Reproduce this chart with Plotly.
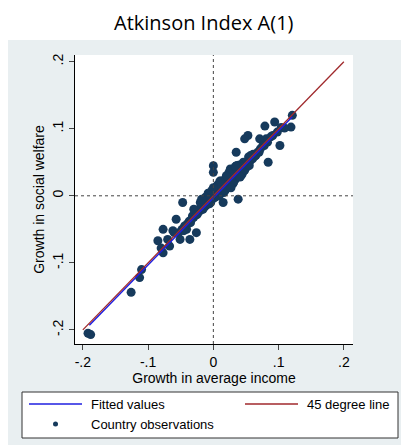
import plotly.graph_objects as go

obs_x = [0.121,0.119,0.109,0.102,0.094,0.091,0.079,0.081,0.084,0.076,0.071,0.053,0.048,0.035,0.038,0.0,0.0,0.015,
         -0.047,-0.057,-0.062,-0.077,-0.085,-0.077,-0.067,-0.051,-0.036,-0.041,-0.026,-0.11,-0.113,-0.126,-0.192,-0.188,
         0.104,0.098,0.088,0.083,0.078,0.072,0.068,0.064,0.061,0.058,0.056,0.054,0.052,0.05,0.048,0.046,0.045,0.043,0.042,
         0.041,0.04,0.038,0.037,0.036,0.035,0.034,0.033,0.032,0.031,0.03,0.029,0.028,0.027,0.026,0.025,0.024,0.023,0.022,
         0.021,0.02,0.019,0.018,0.017,0.016,0.015,0.014,0.013,0.012,0.011,0.01,0.009,0.008,0.007,0.006,0.005,0.004,0.003,
         0.002,0.001,0.0,-0.001,-0.002,-0.003,-0.004,-0.005,-0.006,-0.007,-0.008,-0.009,-0.01,-0.011,-0.012,-0.013,-0.014,
         -0.015,-0.016,-0.018,-0.02,-0.022,-0.024,-0.026,-0.028,-0.03,-0.032,-0.034,-0.037,-0.04,-0.044,-0.048,-0.053,
         0.03,0.025,0.02,0.035,0.04,0.045,0.015,0.01,0.005,0.028,0.033,0.038,0.022,0.018,0.012,0.008,-0.002,-0.006,
         0.05,0.055,0.06,0.065,0.044,0.026,0.031,0.036,0.016,0.006,0.002,-0.01,-0.015,-0.02,0.07,0.062,0.057,0.047,
         -0.03,-0.025,-0.035,-0.045,-0.06,-0.07,-0.08,0.024,0.029,0.034,0.039,0.019,0.014,0.009,0.004,-0.004,-0.008,
         0.012,0.018,0.024,0.03,0.036,0.042,0.048,0.006,-0.005,-0.012,0.02,0.027,0.034,0.041,0.055,0.01,0.0,-0.018]
obs_y = [0.12,0.1025,0.101,0.075,0.11,0.09,0.104,0.085,0.05,0.075,0.085,0.09,0.085,0.065,-0.005,0.045,0.035,-0.01,
         -0.01,-0.035,-0.052,-0.05,-0.067,-0.085,-0.075,-0.065,-0.065,-0.05,-0.055,-0.11,-0.122,-0.144,-0.205,-0.207,
         0.102,0.095,0.088,0.08,0.075,0.07,0.065,0.06,0.062,0.055,0.052,0.058,0.05,0.047,0.045,0.05,0.04,0.042,0.038,
         0.045,0.036,0.04,0.033,0.038,0.03,0.035,0.028,0.033,0.027,0.032,0.025,0.03,0.022,0.028,0.02,0.026,0.018,0.024,
         0.017,0.02,0.015,0.018,0.012,0.016,0.01,0.015,0.008,0.012,0.006,0.01,0.004,0.008,0.002,0.006,0.0,0.004,-0.002,
         0.002,-0.003,0.0,-0.004,-0.002,-0.006,-0.004,-0.008,-0.006,-0.01,-0.008,-0.012,-0.01,-0.014,-0.012,-0.016,-0.015,
         -0.018,-0.02,-0.017,-0.022,-0.02,-0.026,-0.028,-0.025,-0.032,-0.03,-0.036,-0.038,-0.042,-0.045,-0.05,-0.055,
         0.035,0.032,0.028,0.03,0.046,0.036,0.022,0.016,0.012,0.022,0.042,0.03,0.014,0.024,0.005,0.014,0.008,-0.012,
         0.042,0.05,0.055,0.06,0.032,0.04,0.02,0.045,0.005,0.0,0.01,-0.002,-0.006,-0.01,0.065,0.058,0.06,0.038,
         -0.02,-0.028,-0.04,-0.052,-0.055,-0.065,-0.078,0.018,0.038,0.025,0.03,0.01,0.02,0.0,0.01,-0.01,0.004,
         0.022,0.008,0.035,0.018,0.045,0.03,0.038,0.016,0.005,-0.002,0.03,0.012,0.044,0.028,0.045,0.022,0.012,-0.005]

fit_x = [-0.19, 0.121]
fit_y = [-0.193, 0.118]
deg45 = [-0.2, 0.2]

legend_labels = ["Fitted values", "45 degree line", "Country observations"]

# page body has an 8px margin; shift everything by that amount
OFF = 8
W, H = 409 - OFF, 445 - OFF
l, r, t, b = 75 - OFF, 56, 55 - OFF, 101
pw, ph = W - l - r, H - t - b
def px(x): return (x - OFF - l) / pw
def py(y): return (H - b - (y - OFF)) / ph

fig = go.Figure()
fig.add_trace(go.Scatter(x=obs_x, y=obs_y, mode="markers", name=legend_labels[2],
                         marker=dict(color="#163a5c", size=9), showlegend=False))
fig.add_trace(go.Scatter(x=fit_x, y=fit_y, mode="lines", name=legend_labels[0],
                         line=dict(color="#1f1fe0", width=1.5), showlegend=False))
fig.add_trace(go.Scatter(x=deg45, y=deg45, mode="lines", name=legend_labels[1],
                         line=dict(color="#a0292c", width=1.3), showlegend=False))

fig.add_shape(type="rect", xref="paper", yref="paper", x0=px(5), x1=px(409), y0=py(445), y1=py(40),
              fillcolor="#e9eff1", line_width=0, layer="below")
fig.add_shape(type="rect", xref="paper", yref="paper", x0=0, x1=1, y0=0, y1=1,
              fillcolor="white", line_width=0, layer="below")
fig.add_shape(type="line", x0=0, x1=0, y0=-0.221, y1=0.21, line=dict(color="#444", width=1, dash="dot"))
fig.add_shape(type="line", x0=-0.212, x1=0.214, y0=0, y1=0, line=dict(color="#444", width=1, dash="dot"))

# legend box
fig.add_shape(type="rect", xref="paper", yref="paper", x0=px(22), x1=px(398), y0=py(438), y1=py(392),
              fillcolor="white", line=dict(color="#333", width=1))
fig.add_shape(type="line", xref="paper", yref="paper", x0=px(29), x1=px(82), y0=py(404), y1=py(404),
              line=dict(color="#1f1fe0", width=1.5))
fig.add_shape(type="line", xref="paper", yref="paper", x0=px(245), x1=px(298), y0=py(404), y1=py(404),
              line=dict(color="#a0292c", width=1.3))
fig.add_shape(type="circle", xref="paper", yref="paper", x0=px(53), x1=px(58), y0=py(426.5), y1=py(421.5),
              fillcolor="#163a5c", line_width=0)
for txt, x, y in [(legend_labels[0], 89, 404), (legend_labels[1], 305, 404), (legend_labels[2], 89, 424)]:
    fig.add_annotation(text=txt, xref="paper", yref="paper", x=px(x), y=py(y), xanchor="left",
                       yanchor="middle", showarrow=False, font=dict(size=13))

fig.add_annotation(text="Atkinson Index A(1)", xref="paper", yref="paper", x=px(204), y=py(22),
                   yanchor="middle", showarrow=False, font=dict(family="Open Sans", size=20, color="black"))

tv = [-0.2, -0.1, 0, 0.1, 0.2]
tt = ["-.2", "-.1", "0", ".1", ".2"]
fig.update_xaxes(range=[-0.212, 0.214], tickvals=tv, ticktext=tt, showgrid=False, zeroline=False,
                 showline=True, linecolor="black", ticks="outside", ticklen=5,
                 title=dict(text="Growth in average income", standoff=2, font=dict(size=14)))
fig.update_yaxes(range=[-0.221, 0.21], tickvals=tv, ticktext=tt, showgrid=False, zeroline=False,
                 showline=True, linecolor="black", ticks="outside", ticklen=5, tickangle=-90,
                 title=dict(text="Growth in social welfare", standoff=2, font=dict(size=14)))
fig.update_layout(width=W, height=H, margin=dict(l=l, r=r, t=t, b=b, autoexpand=False),
                  paper_bgcolor="white", plot_bgcolor="white", showlegend=False,
                  font=dict(family="Arial", size=14, color="black"))
fig.write_html("out.html")
